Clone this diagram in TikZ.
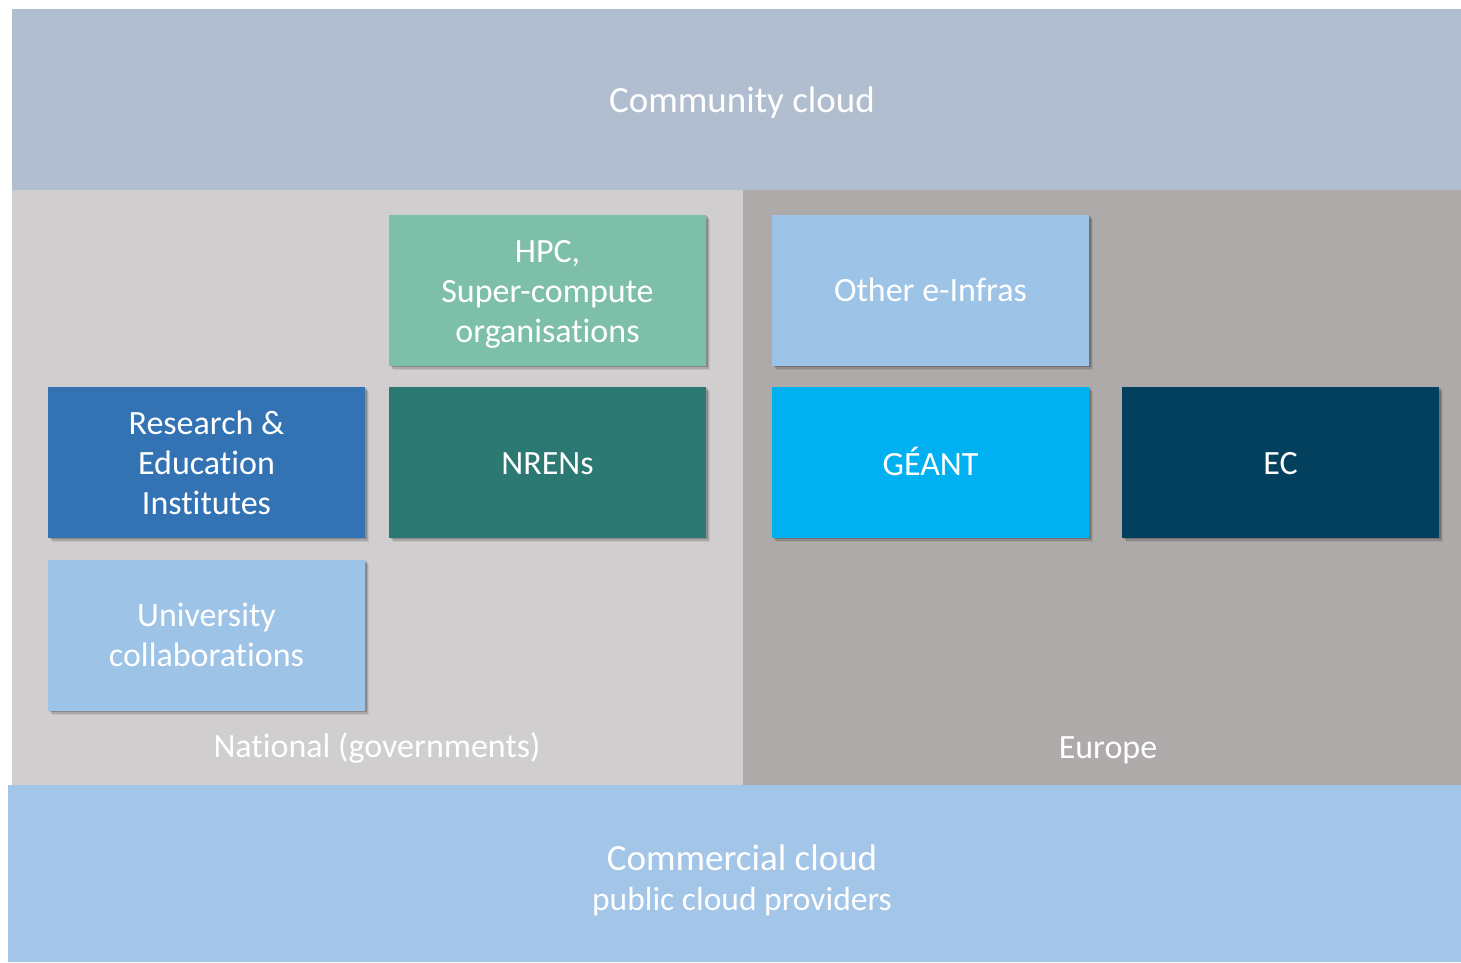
\documentclass[tikz,border=0pt]{standalone}
\usepackage{fontspec}
\setmainfont[Ligatures={NoCommon,NoRare,NoContextual}]{Carlito}
\usetikzlibrary{shadows}
\definecolor{commcol}{HTML}{B1BED0}
\definecolor{natcol}{HTML}{D0CECF}
\definecolor{eucol}{HTML}{AEAAA9}
\definecolor{comcol}{HTML}{A3C5E7}
\definecolor{hpccol}{HTML}{7DBFA8}
\definecolor{recol}{HTML}{3373B3}
\definecolor{nrencol}{HTML}{2C7873}
\definecolor{unicol}{HTML}{9DC3E6}
\definecolor{geantcol}{HTML}{00B0F0}
\definecolor{eccol}{HTML}{02405E}
\tikzset{
  panel/.style={inner sep=0pt, outer sep=0pt, draw=none},
  box/.style={inner sep=0pt, outer sep=0pt, draw=none, minimum width=317pt, minimum height=151pt,
    general shadow={shadow xshift=4pt, shadow yshift=-4pt, fill=black, opacity=0.07},
    general shadow={shadow xshift=3pt, shadow yshift=-3pt, fill=black, opacity=0.12},
    general shadow={shadow xshift=1.5pt, shadow yshift=-1.5pt, fill=black, opacity=0.18}},
  boxtxt/.style={text=white, align=center, inner sep=0pt, font=\fontsize{34}{40}\selectfont},
  lbl/.style={text=white, align=center, inner sep=0pt, font=\fontsize{34}{40}\selectfont},
}
\begin{document}
\begin{tikzpicture}[x=1pt,y=-1pt]
\useasboundingbox (0,0) rectangle (1461,962);
\fill[white] (0,0) rectangle (1461,962);
\node[panel, fill=commcol, minimum width=1449pt, minimum height=181pt, anchor=north west] (community) at (12,9) {};
\node[panel, fill=natcol, minimum width=731pt, minimum height=596pt, anchor=north west] (national) at (12,190) {};
\node[panel, fill=eucol, minimum width=718pt, minimum height=596pt, anchor=north west] (europe) at (743,190) {};
\node[panel, fill=comcol, minimum width=1453pt, minimum height=177pt, anchor=north west] (commercial) at (8,785) {};
\node[lbl, font=\fontsize{37}{40}\selectfont] (communitylbl) at (742,103) {Community cloud};
\node[lbl] (nationallbl) at (377,748) {National (governments)};
\node[lbl] (europelbl) at (1108,750) {Europe};
\node[lbl, font=\fontsize{37}{40}\selectfont] (commerciallbl) at (742,858) {Commercial cloud};
\node[lbl, font=\fontsize{33.5}{36}\selectfont] (publiclbl) at (742,902) {public cloud providers};
\node[box, fill=hpccol] (hpc) at (547.5,290) {};
\node[box, fill=recol] (re) at (206.5,462) {};
\node[box, fill=nrencol] (nren) at (547.5,462) {};
\node[box, fill=unicol] (uni) at (206.5,635) {};
\node[box, fill=unicol] (other) at (930.5,290) {};
\node[box, fill=geantcol] (geant) at (930.5,462) {};
\node[box, fill=eccol] (ec) at (1280.5,462) {};
\node[boxtxt] (hpctxt) at ([yshift=-4pt]hpc.center) {HPC,\\Super-compute\\organisations};
\node[boxtxt] (retxt) at ([yshift=-1pt]re.center) {Research \&\\Education\\Institutes};
\node[boxtxt] (nrentxt) at ([yshift=-2pt]nren.center) {NRENs};
\node[boxtxt] (unitxt) at (uni.center) {University\\collaborations};
\node[boxtxt] (othertxt) at (other.center) {Other e-Infras};
\node[boxtxt] (geanttxt) at ([yshift=1pt]geant.center) {GÉANT};
\node[boxtxt] (ectxt) at ([yshift=-2pt]ec.center) {EC};
\end{tikzpicture}
\end{document}
